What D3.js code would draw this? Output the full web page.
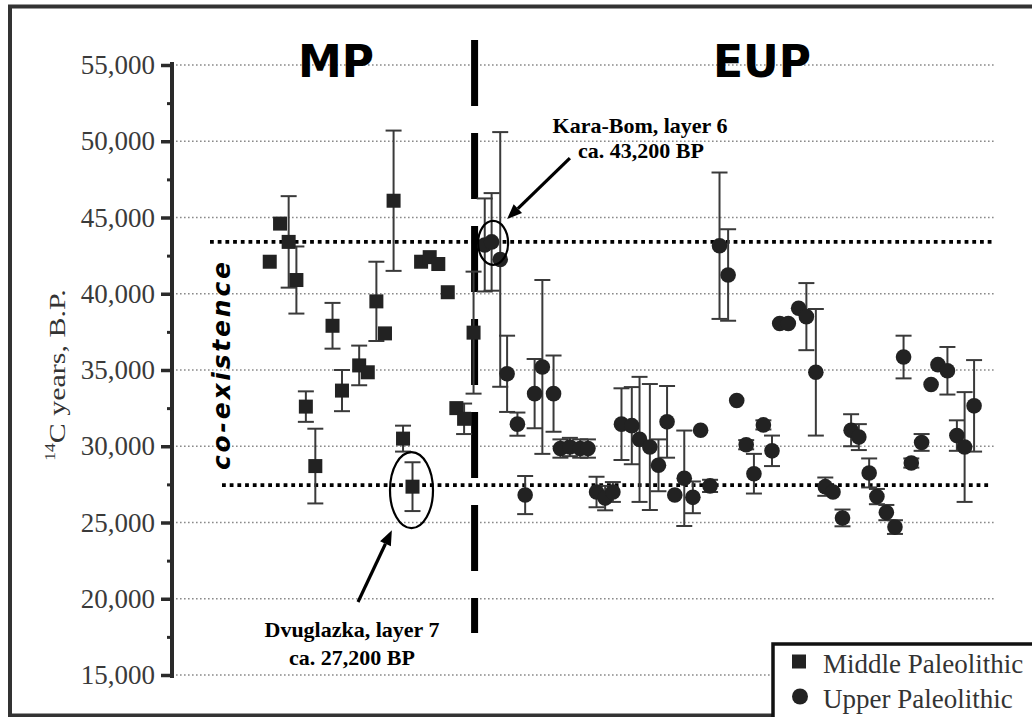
<!DOCTYPE html>
<html>
<head>
<meta charset="utf-8">
<script src="https://cdn.jsdelivr.net/npm/d3@7/dist/d3.min.js"></script>
<style>
  html, body { margin: 0; padding: 0; background: #fff; }
  svg { display: block; }
</style>
</head>
<body>
<script>
// ---------- DATA ----------
const yTicks = [15000, 20000, 25000, 30000, 35000, 40000, 45000, 50000, 55000];
const yMinorTicks = [17500, 22500, 27500, 32500, 37500, 42500, 47500, 52500];

// Middle Paleolithic (squares): sample order, 14C age, error (0 = none)
const mpOrder = [0.9, 2.1, 3.1, 4.0, 5.1, 6.2, 8.2, 9.3, 11.3, 12.3, 13.3, 14.3, 15.3, 16.4, 17.5, 18.5, 19.5, 20.5, 21.6, 22.6, 23.5, 24.6];
const mpAge   = [42100, 44600, 43400, 40900, 32600, 28700, 37900, 33650, 35300, 34850, 39500, 37400, 46100, 30500, 27350, 42100, 42400, 41950, 40100, 32500, 31800, 37450];
const mpError = [0, 0, 3000, 2200, 1000, 2450, 1500, 1350, 1300, 0, 2600, 0, 4600, 850, 1600, 0, 0, 0, 0, 0, 1000, 4000];

// Upper Paleolithic (circles)
const upOrder = [25.9, 26.7, 27.7, 28.5, 29.7, 30.6, 31.7, 32.6, 33.9, 34.7, 35.8, 37.0, 37.9, 38.9, 39.9, 40.8,
                 41.8, 43.0, 43.9, 45.1, 46.1, 47.1, 48.0, 49.1, 50.1, 51.0, 52.1, 53.2, 54.2, 55.2, 56.3, 57.2,
                 58.3, 59.3, 60.2, 61.2, 62.4, 63.3, 64.4, 65.5, 66.4, 67.5, 68.5, 69.4, 70.6, 71.5, 72.6, 73.6,
                 74.6, 75.5, 76.7, 77.8, 78.6, 79.7, 80.8, 81.7, 82.8];
const upAge   = [43200, 43400, 42250, 34750, 31450, 26800, 33450, 35200, 33450, 29850, 29950, 29850, 29850, 27000, 26600, 27000,
                 31450, 31350, 30450, 29950, 28750, 31600, 26800, 27900, 26650, 31050, 27400, 43150, 41230, 33000, 30100, 28200,
                 31400, 29700, 38050, 38050, 39050, 38500, 34850, 27350, 27000, 25300, 31050, 30600, 28250, 26700, 25650, 24700,
                 35850, 28900, 30250, 34050, 35350, 34950, 30700, 29950, 32650];
const upError = [3050, 3200, 8350, 2500, 760, 1250, 2270, 5700, 2500, 600, 600, 600, 600, 1000, 800, 650,
                 2350, 2530, 4100, 4130, 1700, 2350, 0, 3130, 1040, 0, 400, 4800, 3000, 0, 300, 1300,
                 300, 1000, 0, 0, 0, 2200, 4150, 600, 0, 550, 1050, 850, 950, 500, 500, 450,
                 1400, 300, 550, 0, 0, 1560, 1000, 3600, 3000];

const coexistUpper = 43400;  // Kara-Bom level
const coexistLower = 27450;  // Dvuglazka level
const boundaryOrder = 24.72; // MP / EUP boundary

const legendLabels = ["Middle Paleolithic", "Upper Paleolithic"];

// ---------- LAYOUT ----------
const W = 1032, H = 717;
const svg = d3.select("body").append("svg").attr("width", W).attr("height", H);
svg.append("rect").attr("width", W).attr("height", H).attr("fill", "#fff");

const x = d3.scaleLinear().domain([0, 84]).range([262, 262 + 84 * 8.6]);
const y = d3.scaleLinear().domain([15000, 55000]).range([675, 65]);

const serif = "'Liberation Serif', 'Times New Roman', serif";
const sans = "'DejaVu Sans', Verdana, sans-serif";

// outer frame
svg.append("rect").attr("x", 10).attr("y", 6.5).attr("width", W + 20).attr("height", 709)
  .attr("fill", "none").attr("stroke", "#333").attr("stroke-width", 4);

// gridlines
svg.append("g").selectAll("line").data(yTicks).join("line")
  .attr("x1", 172).attr("x2", 995)
  .attr("y1", d => y(d)).attr("y2", d => y(d))
  .attr("stroke", "#8a8a8a").attr("stroke-width", 1.4).attr("stroke-dasharray", "1.6,2.4");

// y axis
const axis = svg.append("g").attr("transform", "translate(172,0)")
  .call(d3.axisLeft(y).tickValues(yTicks).tickFormat(d3.format(",")).tickSize(11).tickSizeOuter(0).tickPadding(6));
axis.select(".domain").attr("stroke", "#2a2a2a").attr("stroke-width", 4).attr("d", `M0,${y(55000) - 3}V${y(15000) + 3}`);
axis.selectAll(".tick line").attr("stroke", "#2a2a2a").attr("stroke-width", 3.5);
axis.selectAll(".tick text").attr("font-family", serif).attr("font-size", 27).attr("fill", "#3a3a3a");
const minor = svg.append("g").attr("transform", "translate(172,0)")
  .call(d3.axisLeft(y).tickValues(yMinorTicks).tickFormat("").tickSize(5).tickSizeOuter(0));
minor.select(".domain").remove();
minor.selectAll(".tick line").attr("stroke", "#2a2a2a").attr("stroke-width", 3);

// y axis label
const yl = svg.append("text")
  .attr("transform", "translate(65,375) rotate(-90) scale(1.25,1)")
  .attr("text-anchor", "middle").attr("font-family", serif).attr("font-size", 24).attr("fill", "#333");
yl.append("tspan").attr("font-size", 14).attr("dy", -10).text("14");
yl.append("tspan").attr("dy", 10).text("C years, B.P.");

// co-existence reference lines
svg.append("line").attr("x1", 210).attr("x2", 995).attr("y1", y(coexistUpper)).attr("y2", y(coexistUpper))
  .attr("stroke", "#000").attr("stroke-width", 3.6).attr("stroke-dasharray", "3.8,3.9");
svg.append("line").attr("x1", 222).attr("x2", 990).attr("y1", y(coexistLower)).attr("y2", y(coexistLower))
  .attr("stroke", "#000").attr("stroke-width", 3.6).attr("stroke-dasharray", "3.8,3.9");

// vertical boundary dashed line
svg.append("line").attr("x1", x(boundaryOrder)).attr("x2", x(boundaryOrder))
  .attr("y1", y(56640)).attr("y2", y(17760))
  .attr("stroke", "#000").attr("stroke-width", 7).attr("stroke-dasharray", "66,27");

// headings
svg.append("text").attr("x", 336).attr("y", 77).attr("text-anchor", "middle")
  .attr("font-family", sans).attr("font-weight", "bold").attr("font-size", 44).attr("fill", "#000").text("MP");
svg.append("text").attr("x", 762).attr("y", 77).attr("text-anchor", "middle")
  .attr("font-family", sans).attr("font-weight", "bold").attr("font-size", 44).attr("fill", "#000").text("EUP");

// co-existence label
svg.append("text").attr("transform", "translate(230,366) rotate(-90)")
  .attr("text-anchor", "middle").attr("font-family", sans).attr("font-weight", "bold").attr("font-style", "italic")
  .attr("font-size", 25).attr("fill", "#000")
  .attr("textLength", 208).attr("lengthAdjust", "spacing").text("co-existence");

// ---------- MARKS ----------
const mp = mpOrder.map((o, i) => ({ o, v: mpAge[i], e: mpError[i] }));
const up = upOrder.map((o, i) => ({ o, v: upAge[i], e: upError[i] }));
const all = mp.concat(up).filter(d => d.e > 0);
const cap = 8;
const eb = svg.append("g").attr("stroke", "#3a3a3a").attr("stroke-width", 2).attr("fill", "none");
eb.selectAll("line.v").data(all).join("line").attr("class", "v")
  .attr("x1", d => x(d.o)).attr("x2", d => x(d.o))
  .attr("y1", d => y(d.v + d.e)).attr("y2", d => y(d.v - d.e));
eb.selectAll("line.t").data(all).join("line").attr("class", "t")
  .attr("x1", d => x(d.o) - cap).attr("x2", d => x(d.o) + cap)
  .attr("y1", d => y(d.v + d.e)).attr("y2", d => y(d.v + d.e));
eb.selectAll("line.b").data(all).join("line").attr("class", "b")
  .attr("x1", d => x(d.o) - cap).attr("x2", d => x(d.o) + cap)
  .attr("y1", d => y(d.v - d.e)).attr("y2", d => y(d.v - d.e));

const sq = 14;
svg.append("g").selectAll("rect").data(mp).join("rect")
  .attr("x", d => x(d.o) - sq / 2).attr("y", d => y(d.v) - sq / 2)
  .attr("width", sq).attr("height", sq).attr("fill", "#222");
svg.append("g").selectAll("circle").data(up).join("circle")
  .attr("cx", d => x(d.o)).attr("cy", d => y(d.v)).attr("r", 7.8).attr("fill", "#222");

// ---------- ANNOTATIONS ----------
function arrow(x1, y1, x2, y2) {
  const g = svg.append("g");
  const ang = Math.atan2(y2 - y1, x2 - x1);
  const L = 15, Wd = 6;
  const bx = x2 - L * Math.cos(ang), by = y2 - L * Math.sin(ang);
  g.append("line").attr("x1", x1).attr("y1", y1).attr("x2", bx).attr("y2", by)
    .attr("stroke", "#000").attr("stroke-width", 3.2);
  g.append("polygon").attr("fill", "#000").attr("points", [
    [x2, y2],
    [bx + Wd * Math.sin(ang), by - Wd * Math.cos(ang)],
    [bx - Wd * Math.sin(ang), by + Wd * Math.cos(ang)]
  ].map(p => p.join(",")).join(" "));
}

// Kara-Bom
const kb = up[1];
svg.append("ellipse").attr("cx", x(kb.o) + 1.5).attr("cy", y(kb.v) + 1)
  .attr("rx", 15).attr("ry", 22).attr("fill", "none").attr("stroke", "#000").attr("stroke-width", 2.2);
arrow(x(35.8), y(48900), x(28.5), y(44900));
const kbt = svg.append("g").attr("font-family", serif).attr("font-weight", "bold").attr("font-size", 22)
  .attr("text-anchor", "middle").attr("fill", "#000");
kbt.append("text").attr("x", 640).attr("y", 133).text("Kara-Bom, layer 6");
kbt.append("text").attr("x", 641).attr("y", 158).text("ca. 43,200 BP");

// Dvuglazka
const dv = mp[14];
svg.append("ellipse").attr("cx", x(dv.o) - 1).attr("cy", y(dv.v) + 3.5)
  .attr("rx", 21.5).attr("ry", 38).attr("fill", "none").attr("stroke", "#000").attr("stroke-width", 2.2);
arrow(358, 602, x(15.1), y(24500));
const dvt = svg.append("g").attr("font-family", serif).attr("font-weight", "bold").attr("font-size", 22)
  .attr("text-anchor", "middle").attr("fill", "#000");
dvt.append("text").attr("x", 352).attr("y", 637).text("Dvuglazka, layer 7");
dvt.append("text").attr("x", 352).attr("y", 665).text("ca. 27,200 BP");

// ---------- LEGEND ----------
const lg = svg.append("g");
lg.append("rect").attr("x", 773).attr("y", 644).attr("width", 300).attr("height", 100)
  .attr("fill", "#fff").attr("stroke", "#111").attr("stroke-width", 3.5);
lg.append("rect").attr("x", 792).attr("y", 654.5).attr("width", sq).attr("height", sq).attr("fill", "#222");
lg.append("circle").attr("cx", 800).attr("cy", 696.5).attr("r", 8).attr("fill", "#222");
lg.selectAll("text").data(legendLabels).join("text")
  .attr("x", 823).attr("y", (d, i) => 673 + i * 35)
  .attr("font-family", serif).attr("font-size", 27).attr("fill", "#333").text(d => d);
</script>
</body>
</html>
